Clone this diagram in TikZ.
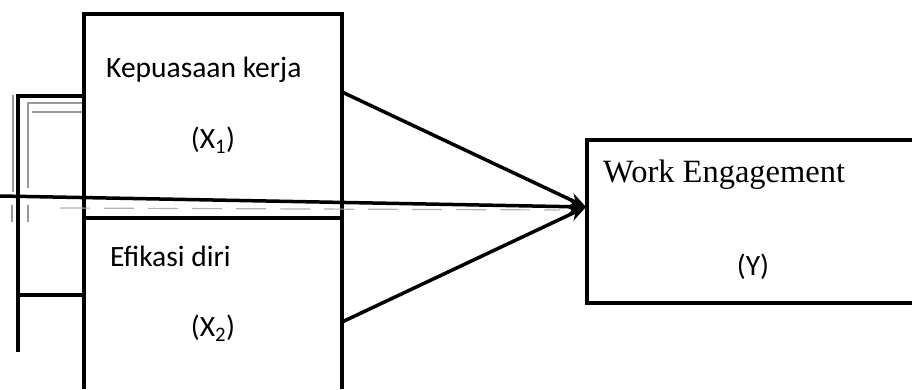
\documentclass[tikz,border=0pt]{standalone}
\usepackage{fontspec}
\setmainfont{Liberation Serif}
\newfontfamily\calfont{Carlito}
\usetikzlibrary{arrows.meta}
\begin{document}
\begin{tikzpicture}[x=1pt,y=-1pt,
  boxline/.style={line width=4pt},
  brack/.style={line width=3.5pt},
  faint/.style={line width=1.2pt,black!40},
  arr/.style={line width=3.5pt,-{Stealth[length=17pt,width=14pt]}},
  sanslbl/.style={font=\calfont\fontsize{29.5}{34}\selectfont,inner sep=0pt},
  seriflbl/.style={font=\fontsize{32.5}{38}\selectfont,inner sep=0pt}]
\useasboundingbox (0,0) rectangle (912,389);
% X1 and X2 boxes
\draw[boxline] (84,389) -- (84,14) -- (342,14) -- (342,389);
\draw[boxline] (84,218) -- (342,218);
% Y box
\draw[boxline] (912,140) -- (587,140) -- (587,303) -- (912,303);
% left bracket
\draw[brack] (84,96) -- (18,96) -- (18,352);
\draw[brack] (18,295) -- (84,295);
\draw[faint] (82,103) -- (28,103) -- (28,188);
\draw[faint] (82,112) -- (32,112);
\draw[faint] (13,95) -- (13,192);
\draw[faint] (12,205) -- (12,222);
\draw[faint] (28,205) -- (28,222);
% connector points
\coordinate (tip) at (586,207);
\coordinate (x1out) at (342,92);
\coordinate (x2out) at (342,322);
\coordinate (lin) at (0,196);
\draw[arr] (x1out) -- (tip);
\draw[arr] (x2out) -- (tip);
\draw[arr] (lin) -- (tip);
\draw[faint,black!30,dash pattern=on 30pt off 14pt] (60,208) -- (560,210);
% labels
\node[sanslbl,anchor=base west] (k1) at (106,77) {Kepuasaan kerja};
\node[sanslbl] (x1) at (213,140) {(X\textsubscript{1})};
\node[sanslbl,anchor=base west] (k2) at (110,266) {Efikasi diri};
\node[sanslbl] (x2) at (213,328) {(X\textsubscript{2})};
\node[seriflbl,anchor=base west] (w) at (603,182) {Work Engagement};
\node[sanslbl] (y) at (753,267) {(Y)};
\end{tikzpicture}
\end{document}
